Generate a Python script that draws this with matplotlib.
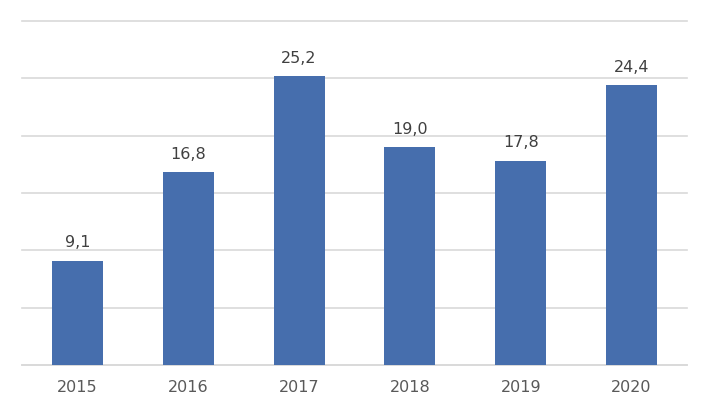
import matplotlib
matplotlib.use("Agg")
import matplotlib.pyplot as plt

plt.rcParams["font.family"] = ["DejaVu Sans"]

years = ["2015", "2016", "2017", "2018", "2019", "2020"]
values = [9.1, 16.8, 25.2, 19.0, 17.8, 24.4]
labels = ["9,1", "16,8", "25,2", "19,0", "17,8", "24,4"]

fig = plt.figure(figsize=(7.09, 4.08), dpi=100)
ax = fig.add_axes([22/709, 1-365/408, (687-22)/709, (365-21)/408])

x = range(len(years))
bars = ax.bar(x, values, width=0.46, color="#466EAD", zorder=3)
ax.set_xlim(-0.5, len(years) - 0.5)
ax.set_ylim(0, 30)
ax.set_yticks([0, 5, 10, 15, 20, 25, 30])
ax.yaxis.grid(True, color="#D9D9D9", linewidth=1.2, zorder=0)
for gl in ax.get_ygridlines():
    gl.set_clip_on(False)
ax.tick_params(axis="y", left=False, labelleft=False)
ax.set_xticks(list(x))
ax.set_xticklabels(years, fontsize=11.5, color="#595959")
ax.tick_params(axis="x", length=0, pad=11)
for s in ["top", "right", "left"]:
    ax.spines[s].set_visible(False)
ax.spines["bottom"].set_color("#D9D9D9")
ax.spines["bottom"].set_linewidth(1.2)

for xi, v, lab in zip(x, values, labels):
    ax.annotate(lab, (xi, v), xytext=(0, 7.5), textcoords="offset points",
                ha="center", va="bottom", fontsize=11.5, color="#404040")

fig.savefig("out.png", dpi=100)
